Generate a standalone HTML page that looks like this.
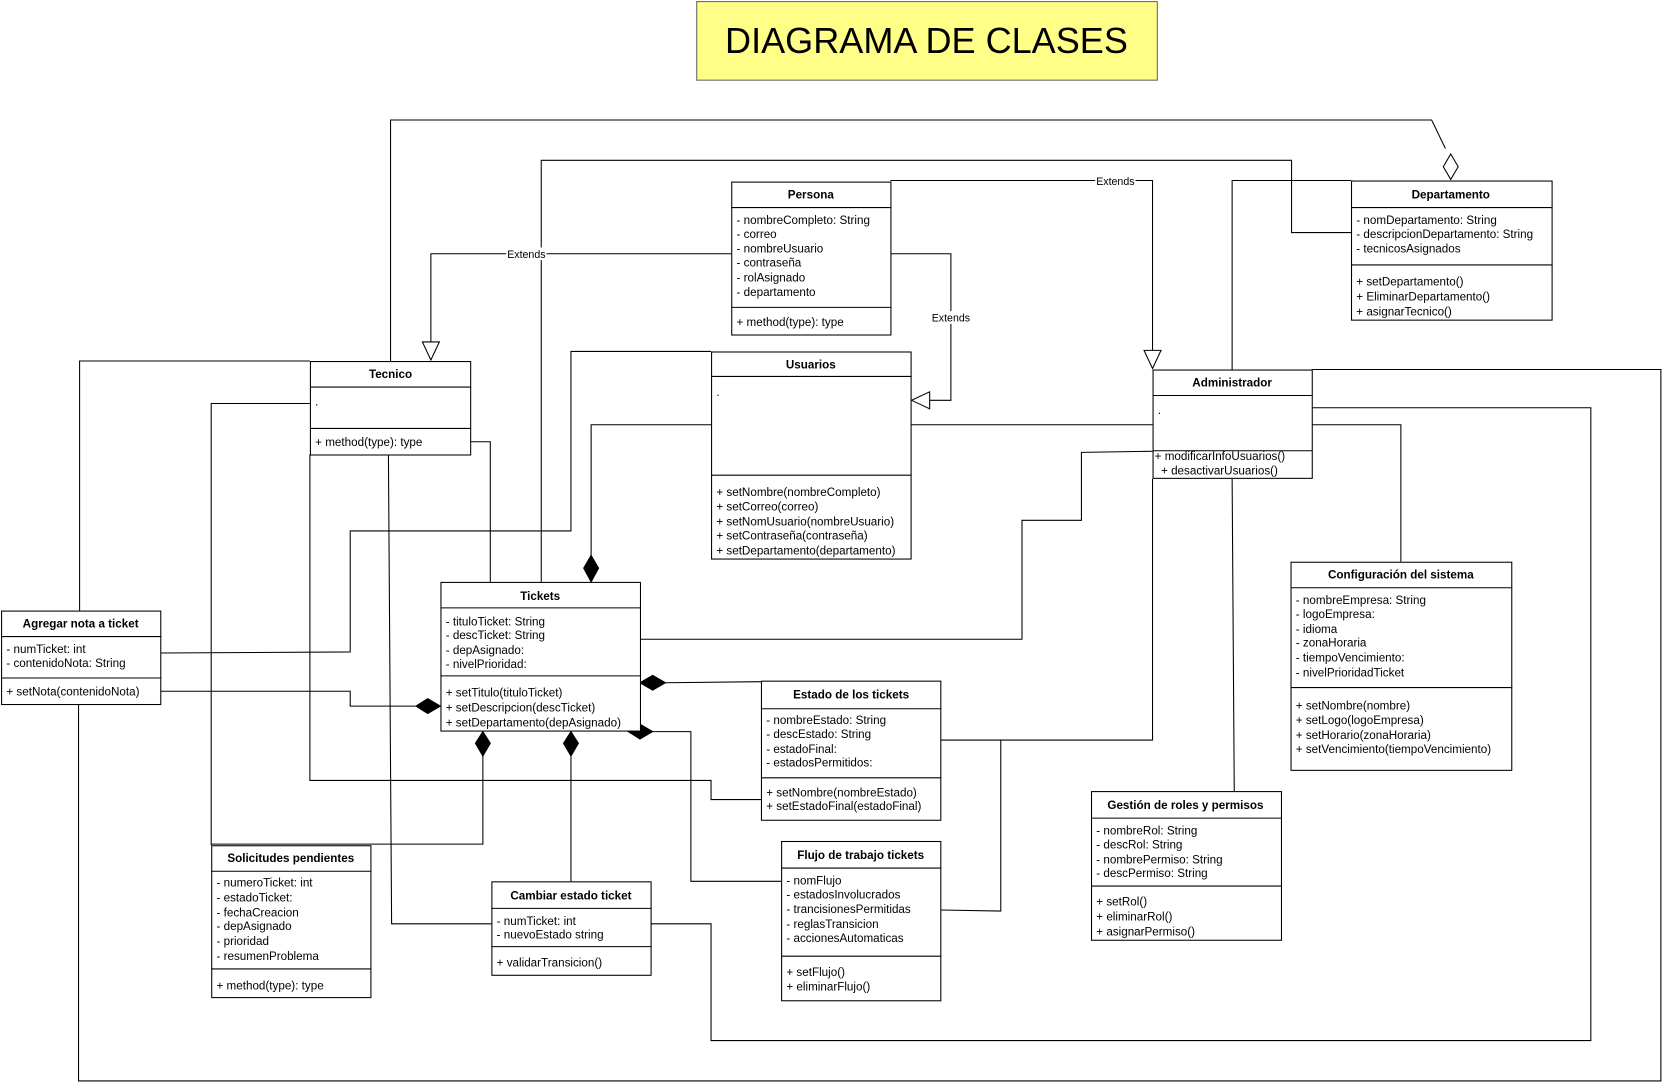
<!DOCTYPE html>
<html><head><meta charset="utf-8"><style>
html,body{margin:0;padding:0;background:#fff;width:1663px;height:1082px;overflow:hidden}
svg text{font-family:"Liberation Sans",Arial,sans-serif;font-size:11px;fill:#000}
.h{font-weight:bold;text-anchor:middle}
</style></head><body>
<svg width="1663" height="1082" viewBox="0 0 1567 1019" preserveAspectRatio="none" xmlns="http://www.w3.org/2000/svg">
<rect x="0" y="0" width="1567" height="1019" fill="#fff"/>
<rect x="656.5" y="1.5" width="434" height="74" fill="#ffff88" stroke="#666"/>
<text x="873" y="50" style="font-size:34px" text-anchor="middle">DIAGRAMA DE CLASES</text>

<g fill="none" stroke="#000" stroke-width="1">
<polyline points="368,340 368,113 1349,113 1362,140"/>
<polygon points="1367,145 1374,157 1367,169 1360,157" fill="#fff"/>
<polyline points="510,548 510,151 1217,151 1217,219 1273,219"/>
<polyline points="839,170 1086,170 1086,330"/>
<polygon points="1078,330 1094,330 1086,347" fill="#fff"/>
<polyline points="689,239 406,239 406,322"/>
<polygon points="398,322 414,322 406,339" fill="#fff"/>
<polyline points="839,239 896,239 896,377 876,377"/>
<polygon points="876,369 876,385 859,377" fill="#fff"/>
<polyline points="1161,348 1161,170 1273,170"/>
<polyline points="75,575 75,340 292,340"/>
<polyline points="199,796 199,380 292,380"/>
<polyline points="443,416 462,416 462,548"/>
<polyline points="670,331 538,331 538,500 330,500 330,614 151,615"/>
<polyline points="670,400 557,400 557,523"/>
<polygon points="557,523 564,535 557,548 550,535" fill="#000"/>
<polyline points="151,651 330,651 330,665 392,665"/>
<polygon points="392,665 403,658 415,665 403,672" fill="#000"/>
<polyline points="603,602 963,602 963,490 1019,490 1019,426 1086,425"/>
<polyline points="858,400 1086,400"/>
<polygon points="603,643 615,636 627,643 615,650" fill="#000"/>
<polyline points="627,643 717,642"/>
<polygon points="592,689 603,682 615,689 603,696" fill="#000"/>
<polyline points="615,689 651,689 651,830 736,830"/>
<polygon points="455,689 462,700 455,712 448,700" fill="#000"/>
<polyline points="455,712 455,795 199,795"/>
<polygon points="538,689 545,700 538,712 531,700" fill="#000"/>
<polyline points="538,712 538,830"/>
<polyline points="366,428 369,870 463,870"/>
<polyline points="292,428 292,735 670,735 670,753 717,753"/>
<polyline points="886,697 1086,697 1086,451"/>
<polyline points="886,857 943,858 943,697"/>
<polyline points="1161,451 1163,745"/>
<polyline points="1236,400 1320,400 1320,529"/>
<polyline points="1236,384 1499,384 1499,980 670,980 670,870 613,870"/>
<polyline points="1236,348 1565,348 1565,1018 74,1018 74,663"/>
</g>
<rect x="1032" y="164" width="38" height="12" fill="#fff"/><text x="1051" y="174" text-anchor="middle" style="font-size:10px">Extends</text>
<rect x="477" y="233" width="38" height="12" fill="#fff"/><text x="496" y="243" text-anchor="middle" style="font-size:10px">Extends</text>
<rect x="877" y="293" width="38" height="12" fill="#fff"/><text x="896" y="303" text-anchor="middle" style="font-size:10px">Extends</text>

<g fill="#fff" stroke="#000" stroke-width="1">
<rect x="689.5" y="171.5" width="150" height="144"/>
<rect x="1273.5" y="170.5" width="189" height="131"/>
<rect x="670.5" y="331.5" width="188" height="195"/>
<rect x="292.5" y="340.5" width="151" height="88"/>
<rect x="1086.5" y="348.5" width="150" height="102"/>
<rect x="1.5" y="575.5" width="150" height="88"/>
<rect x="415.5" y="548.5" width="188" height="140"/>
<rect x="717.5" y="641.5" width="169" height="131"/>
<rect x="1216.5" y="529.5" width="208" height="196"/>
<rect x="1028.5" y="745.5" width="179" height="140"/>
<rect x="736.5" y="792.5" width="150" height="150"/>
<rect x="199.5" y="796.5" width="150" height="143"/>
<rect x="463.5" y="830.5" width="150" height="88"/>
</g>
<g stroke="#000" stroke-width="1">
<line x1="689" y1="195.5" x2="840" y2="195.5"/><line x1="689" y1="289.5" x2="840" y2="289.5"/>
<line x1="1273" y1="195.5" x2="1463" y2="195.5"/><line x1="1273" y1="249.5" x2="1463" y2="249.5"/>
<line x1="670" y1="354.5" x2="859" y2="354.5"/><line x1="670" y1="447.5" x2="859" y2="447.5"/>
<line x1="292" y1="364.5" x2="444" y2="364.5"/><line x1="292" y1="403.5" x2="444" y2="403.5"/>
<line x1="1086" y1="372.5" x2="1237" y2="372.5"/><line x1="1086" y1="424.5" x2="1237" y2="424.5"/>
<line x1="1" y1="599.5" x2="152" y2="599.5"/><line x1="1" y1="638.5" x2="152" y2="638.5"/>
<line x1="415" y1="572.5" x2="604" y2="572.5"/><line x1="415" y1="636.5" x2="604" y2="636.5"/>
<line x1="717" y1="667.5" x2="887" y2="667.5"/><line x1="717" y1="732.5" x2="887" y2="732.5"/>
<line x1="1216" y1="553.5" x2="1425" y2="553.5"/><line x1="1216" y1="647.5" x2="1425" y2="647.5"/>
<line x1="1028" y1="770.5" x2="1208" y2="770.5"/><line x1="1028" y1="834.5" x2="1208" y2="834.5"/>
<line x1="736" y1="817.5" x2="887" y2="817.5"/><line x1="736" y1="900.5" x2="887" y2="900.5"/>
<line x1="199" y1="820.5" x2="350" y2="820.5"/><line x1="199" y1="912.5" x2="350" y2="912.5"/>
<line x1="463" y1="855.5" x2="614" y2="855.5"/><line x1="463" y1="891.5" x2="614" y2="891.5"/>
</g>

<text class="h" x="764" y="187">Persona</text>
<text x="694" y="211">- nombreCompleto: String</text><text x="694" y="224">- correo</text><text x="694" y="238">- nombreUsuario</text><text x="694" y="251">- contraseña</text><text x="694" y="265">- rolAsignado</text><text x="694" y="279">- departamento</text>
<text x="694" y="307">+ method(type): type</text>

<text class="h" x="1367" y="187">Departamento</text>
<text x="1278" y="211">- nomDepartamento: String</text><text x="1278" y="224">- descripcionDepartamento: String</text><text x="1278" y="238">- tecnicosAsignados</text>
<text x="1278" y="269">+ setDepartamento()</text><text x="1278" y="283">+ EliminarDepartamento()</text><text x="1278" y="297">+ asignarTecnico()</text>

<text class="h" x="764" y="347">Usuarios</text>
<text x="675" y="373">.</text>
<text x="675" y="467">+ setNombre(nombreCompleto)</text><text x="675" y="481">+ setCorreo(correo)</text><text x="675" y="495">+ setNomUsuario(nombreUsuario)</text><text x="675" y="508">+ setContraseña(contraseña)</text><text x="675" y="522">+ setDepartamento(departamento)</text>

<text class="h" x="368" y="356">Tecnico</text>
<text x="297" y="382">.</text>
<text x="297" y="420">+ method(type): type</text>

<text class="h" x="1161" y="364">Administrador</text>
<text x="1091" y="390">.</text>
<text x="1088" y="433">+ modificarInfoUsuarios()</text><text x="1094" y="447">+ desactivarUsuarios()</text>

<text class="h" x="76" y="591">Agregar nota a ticket</text>
<text x="6" y="615">- numTicket: int</text><text x="6" y="628">- contenidoNota: String</text>
<text x="6" y="655">+ setNota(contenidoNota)</text>

<text class="h" x="509" y="565">Tickets</text>
<text x="420" y="589">- tituloTicket: String</text><text x="420" y="602">- descTicket: String</text><text x="420" y="616">- depAsignado:</text><text x="420" y="629">- nivelPrioridad:</text>
<text x="420" y="656">+ setTitulo(tituloTicket)</text><text x="420" y="670">+ setDescripcion(descTicket)</text><text x="420" y="684">+ setDepartamento(depAsignado)</text>

<text class="h" x="802" y="658">Estado de los tickets</text>
<text x="722" y="682">- nombreEstado: String</text><text x="722" y="695">- descEstado: String</text><text x="722" y="709">- estadoFinal:</text><text x="722" y="722">- estadosPermitidos:</text>
<text x="722" y="750">+ setNombre(nombreEstado)</text><text x="722" y="763">+ setEstadoFinal(estadoFinal)</text>

<text class="h" x="1320" y="545">Configuración del sistema</text>
<text x="1221" y="569">- nombreEmpresa: String</text><text x="1221" y="582">- logoEmpresa:</text><text x="1221" y="596">- idioma</text><text x="1221" y="609">- zonaHoraria</text><text x="1221" y="623">- tiempoVencimiento:</text><text x="1221" y="637">- nivelPrioridadTicket</text>
<text x="1221" y="668">+ setNombre(nombre)</text><text x="1221" y="682">+ setLogo(logoEmpresa)</text><text x="1221" y="696">+ setHorario(zonaHoraria)</text><text x="1221" y="709">+ setVencimiento(tiempoVencimiento)</text>

<text class="h" x="1117" y="762">Gestión de roles y permisos</text>
<text x="1033" y="786">- nombreRol: String</text><text x="1033" y="799">- descRol: String</text><text x="1033" y="813">- nombrePermiso: String</text><text x="1033" y="826">- descPermiso: String</text>
<text x="1033" y="853">+ setRol()</text><text x="1033" y="867">+ eliminarRol()</text><text x="1033" y="881">+ asignarPermiso()</text>

<text class="h" x="811" y="809">Flujo de trabajo tickets</text>
<text x="741" y="833">- nomFlujo</text><text x="741" y="846">- estadosInvolucrados</text><text x="741" y="860">- trancisionesPermitidas</text><text x="741" y="874">- reglasTransicion</text><text x="741" y="887">- accionesAutomaticas</text>
<text x="741" y="919">+ setFlujo()</text><text x="741" y="933">+ eliminarFlujo()</text>

<text class="h" x="274" y="812">Solicitudes pendientes</text>
<text x="204" y="835">- numeroTicket: int</text><text x="204" y="849">- estadoTicket:</text><text x="204" y="863">- fechaCreacion</text><text x="204" y="876">- depAsignado</text><text x="204" y="890">- prioridad</text><text x="204" y="904">- resumenProblema</text>
<text x="204" y="932">+ method(type): type</text>

<text class="h" x="538" y="847">Cambiar estado ticket</text>
<text x="468" y="871">- numTicket: int</text><text x="468" y="884">- nuevoEstado string</text>
<text x="468" y="910">+ validarTransicion()</text>
</svg>
</body></html>
